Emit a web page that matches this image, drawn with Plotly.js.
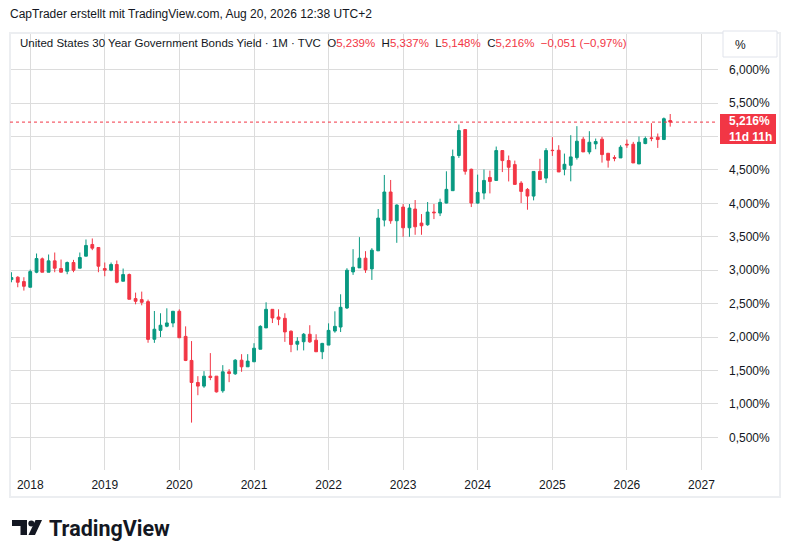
<!DOCTYPE html>
<html>
<head>
<meta charset="utf-8">
<script src="https://cdn.plot.ly/plotly-3.0.1.min.js"></script>
<style>
html,body{margin:0;padding:0;background:#ffffff;}
#chart{width:791px;height:558px;}
</style>
</head>
<body>
<div id="chart"></div>
<script>
// ---- Data (monthly OHLC, US 30Y yield, %) ----
const months = [
'2017-10-01','2017-11-01','2017-12-01',
'2018-01-01','2018-02-01','2018-03-01','2018-04-01','2018-05-01','2018-06-01','2018-07-01','2018-08-01','2018-09-01','2018-10-01','2018-11-01','2018-12-01',
'2019-01-01','2019-02-01','2019-03-01','2019-04-01','2019-05-01','2019-06-01','2019-07-01','2019-08-01','2019-09-01','2019-10-01','2019-11-01','2019-12-01',
'2020-01-01','2020-02-01','2020-03-01','2020-04-01','2020-05-01','2020-06-01','2020-07-01','2020-08-01','2020-09-01','2020-10-01','2020-11-01','2020-12-01',
'2021-01-01','2021-02-01','2021-03-01','2021-04-01','2021-05-01','2021-06-01','2021-07-01','2021-08-01','2021-09-01','2021-10-01','2021-11-01','2021-12-01',
'2022-01-01','2022-02-01','2022-03-01','2022-04-01','2022-05-01','2022-06-01','2022-07-01','2022-08-01','2022-09-01','2022-10-01','2022-11-01','2022-12-01',
'2023-01-01','2023-02-01','2023-03-01','2023-04-01','2023-05-01','2023-06-01','2023-07-01','2023-08-01','2023-09-01','2023-10-01','2023-11-01','2023-12-01',
'2024-01-01','2024-02-01','2024-03-01','2024-04-01','2024-05-01','2024-06-01','2024-07-01','2024-08-01','2024-09-01','2024-10-01','2024-11-01','2024-12-01',
'2025-01-01','2025-02-01','2025-03-01','2025-04-01','2025-05-01','2025-06-01','2025-07-01','2025-08-01','2025-09-01','2025-10-01','2025-11-01','2025-12-01',
'2026-01-01','2026-02-01','2026-03-01','2026-04-01','2026-05-01','2026-06-01','2026-07-01','2026-08-01'
];

const openVals = [
2.86,2.895,2.83,
2.745,2.97,3.17,2.97,3.14,3.025,2.985,3.115,3.03,3.21,3.385,3.34,
3.025,3.00,3.085,2.835,2.935,2.575,2.56,2.53,1.967,2.10,2.162,2.21,
2.386,2.01,1.65,1.32,1.266,1.415,1.415,1.196,1.48,1.45,1.654,1.555,
1.63,1.818,2.137,2.415,2.30,2.28,2.087,1.893,1.93,2.042,1.953,1.78,
1.88,2.09,2.15,2.435,2.975,3.035,3.18,3.02,3.29,3.75,4.17,3.74,
3.945,3.635,3.915,3.705,3.68,3.87,3.855,4.005,4.19,4.716,5.104,4.51,
4.005,4.154,4.388,4.343,4.79,4.64,4.58,4.303,4.209,4.109,4.478,4.378,
4.795,4.795,4.51,4.57,4.685,4.96,4.77,4.89,4.96,4.75,4.685,4.68,
4.885,4.885,4.59,4.895,4.98,4.99,4.955,5.239
];

const highVals = [
2.97,2.91,2.895,
3.01,3.25,3.19,3.235,3.265,3.16,3.13,3.155,3.265,3.46,3.475,3.34,
3.115,3.115,3.145,3.025,2.95,2.665,2.68,2.56,2.39,2.356,2.43,2.39,
2.415,2.16,1.94,1.415,1.49,1.76,1.415,1.58,1.52,1.67,1.744,1.744,
1.908,2.177,2.52,2.415,2.415,2.356,2.10,1.998,2.06,2.177,2.042,1.913,
2.205,2.385,2.64,3.03,3.315,3.495,3.285,3.33,3.915,4.425,4.35,3.985,
3.99,3.99,4.05,3.84,4.02,3.99,4.07,4.48,4.805,5.18,5.104,4.52,
4.43,4.507,4.49,4.85,4.79,4.716,4.64,4.333,4.229,4.478,4.667,4.826,
4.99,4.87,4.745,5.02,5.155,4.995,5.08,4.97,4.995,4.75,4.72,4.87,
4.955,4.92,5.00,5.00,5.20,5.045,5.285,5.337
];

const lowVals = [
2.82,2.745,2.695,
2.745,2.955,2.97,2.97,2.97,2.97,2.94,2.97,3.03,3.21,3.30,2.97,
2.91,2.985,2.805,2.835,2.565,2.49,2.475,1.915,1.913,2.00,2.147,2.147,
1.99,1.64,0.72,1.13,1.24,1.355,1.17,1.167,1.325,1.435,1.48,1.555,
1.63,1.818,2.137,2.21,2.177,1.928,1.774,1.80,1.80,1.913,1.78,1.67,
1.88,2.065,2.075,2.42,2.93,3.035,2.96,2.855,3.29,3.655,3.695,3.41,
3.50,3.50,3.53,3.53,3.665,3.765,3.81,4.00,4.19,4.68,4.43,3.945,
3.995,4.06,4.149,4.343,4.468,4.328,4.284,4.005,3.905,4.045,4.358,4.303,
4.71,4.47,4.42,4.33,4.655,4.77,4.735,4.81,4.61,4.535,4.63,4.68,
4.83,4.605,4.59,4.885,4.93,4.83,4.955,5.148
];

const closeVals = [
2.89,2.82,2.76,
2.98,3.175,2.97,3.14,3.03,2.97,3.115,3.00,3.19,3.37,3.33,3.06,
3.00,3.085,2.82,2.935,2.565,2.535,2.52,1.965,2.117,2.177,2.211,2.386,
1.99,1.65,1.32,1.266,1.415,1.395,1.18,1.48,1.455,1.654,1.555,1.64,
1.833,2.16,2.415,2.286,2.266,2.077,1.888,1.937,2.042,1.928,1.78,1.905,
2.10,2.16,2.445,3.00,3.045,3.18,3.005,3.30,3.78,4.17,3.74,3.975,
3.635,3.93,3.65,3.665,3.87,3.86,4.015,4.21,4.70,5.09,4.48,4.005,
4.164,4.343,4.328,4.79,4.64,4.54,4.284,4.179,4.109,4.478,4.358,4.79,
4.79,4.47,4.585,4.695,4.93,4.77,4.915,4.925,4.73,4.645,4.675,4.84,
4.875,4.605,4.915,4.97,4.97,4.955,5.267,5.216
];

const yTicks = [0.5,1.0,1.5,2.0,2.5,3.0,3.5,4.0,4.5,5.0,5.5,6.0];
const yTickLabels = ['0,500%','1,000%','1,500%','2,000%','2,500%','3,000%','3,500%','4,000%','4,500%','5,000%','5,500%','6,000%'];
const yearTicks = ['2018-01-01','2019-01-01','2020-01-01','2021-01-01','2022-01-01','2023-01-01','2024-01-01','2025-01-01','2026-01-01','2027-01-01'];
const yearLabels = ['2018','2019','2020','2021','2022','2023','2024','2025','2026','2027'];

const titleText = 'United States 30 Year Government Bonds Yield · 1M · TVC';
const headerText = 'CapTrader erstellt mit TradingView.com, Aug 20, 2026 12:38 UTC+2';
const countdownText = '11d 11h';

// ---- Styling ----
const UP = '#089981', DOWN = '#f23645', TXT = '#131722', GRID = '#dcdcdc';
const W = 791, H = 558;
const M = {l:10, r:73, t:33, b:88};
const PW = W - M.l - M.r, PH = H - M.t - M.b;
const px = x => (x - M.l) / PW;
const py = y => (H - M.b - y) / PH;

const fmt = v => v.toFixed(3).replace('.', ',');
const n = closeVals.length;
const lastO = openVals[n-1], lastH = highVals[n-1], lastL = lowVals[n-1], lastC = closeVals[n-1];
const chg = lastC - closeVals[n-2];
const chgPct = chg / closeVals[n-2] * 100;
const minus = s => s.replace('-', '−');
const red = s => '<span style="color:' + DOWN + '">' + s + '</span>';
const gap = ' &nbsp;';
const legendText = titleText + ' &nbsp;O' + red(fmt(lastO) + '%') + gap + 'H' + red(fmt(lastH) + '%') +
  gap + 'L' + red(fmt(lastL) + '%') + gap + 'C' + red(fmt(lastC) + '%') + gap +
  red(minus(fmt(chg)) + ' (' + minus(chgPct.toFixed(2).replace('.', ',')) + '%)');

// the last-price label on the scale covers the tick label right under it
const shownTickLabels = yTicks.map((v, i) => Math.abs(v - lastC) < 0.25 ? '' : yTickLabels[i]);

const trace = {
  type: 'candlestick',
  x: months, open: openVals, high: highVals, low: lowVals, close: closeVals,
  increasing: {line: {color: UP, width: 1}, fillcolor: UP},
  decreasing: {line: {color: DOWN, width: 1}, fillcolor: DOWN},
  whiskerwidth: 0,
  hoverinfo: 'skip',
  showlegend: false
};

const font = {family: '"Liberation Sans", Arial, sans-serif', size: 12, color: TXT};

// TradingView logo icon path (pixel coords -> paper)
function pathPx(pts) {
  return 'M' + pts.map(p => px(p[0]).toFixed(5) + ',' + py(p[1]).toFixed(5)).join(' L') + ' Z';
}
const logoT = pathPx([[12,520],[27,520],[27,535],[20.5,535],[20.5,526],[12,526]]);
const logoSlash = pathPx([[35.5,520],[42,520],[35,535],[28.5,535]]);

const layout = {
  width: W, height: H,
  margin: M,
  paper_bgcolor: '#ffffff', plot_bgcolor: '#ffffff',
  font: font,
  separators: ',.',
  dragmode: false,
  hovermode: false,
  xaxis: {
    type: 'date',
    range: ['2017-09-24', '2027-03-23'],
    tickvals: yearTicks, ticktext: yearLabels,
    showgrid: true, gridcolor: GRID, gridwidth: 1,
    zeroline: false, showline: false, ticks: '',
    ticklabelstandoff: 6,
    tickfont: {family: font.family, size: 12, color: TXT},
    rangeslider: {visible: false},
    fixedrange: true
  },
  yaxis: {
    side: 'right',
    range: [0.011, 6.549],
    tickvals: yTicks, ticktext: shownTickLabels,
    showgrid: true, gridcolor: GRID, gridwidth: 1,
    zeroline: false, showline: false, ticks: '',
    ticklabelstandoff: 10,
    tickfont: {family: font.family, size: 12, color: TXT},
    fixedrange: true
  },
  shapes: [
    // outer chart frame
    {type: 'rect', xref: 'paper', yref: 'paper', x0: px(10), x1: px(780), y0: py(497), y1: py(33),
     line: {color: '#eceef1', width: 2}, fillcolor: 'rgba(0,0,0,0)', layer: 'above'},
    // last price dotted line
    {type: 'line', xref: 'paper', yref: 'y', x0: 0, x1: 1, y0: lastC, y1: lastC,
     line: {color: DOWN, width: 1, dash: 'dot'}, layer: 'above'},
    // price label box
    {type: 'rect', xref: 'paper', xsizemode: 'pixel', xanchor: 1, x0: 2, x1: 58,
     yref: 'y', ysizemode: 'pixel', yanchor: lastC, y0: -22, y1: 8,
     line: {width: 0}, fillcolor: DOWN, layer: 'above'},
    // % unit box
    {type: 'rect', xref: 'paper', yref: 'paper', x0: px(723), x1: px(777), y0: py(57), y1: py(31),
     line: {color: '#e0e3eb', width: 1}, fillcolor: '#ffffff', layer: 'above'},
    // TradingView logo
    {type: 'path', xref: 'paper', yref: 'paper', path: logoT, fillcolor: TXT, line: {width: 0}},
    {type: 'path', xref: 'paper', yref: 'paper', path: logoSlash, fillcolor: TXT, line: {width: 0}},
    {type: 'circle', xref: 'paper', yref: 'paper', x0: px(28.3), x1: px(34.3), y0: py(526.5), y1: py(520.5),
     fillcolor: TXT, line: {width: 0}}
  ],
  annotations: [
    {xref: 'paper', yref: 'paper', x: px(8), y: py(14), xanchor: 'left', yanchor: 'middle',
     text: headerText, showarrow: false, font: {family: font.family, size: 12, color: TXT}},
    {xref: 'paper', yref: 'paper', x: px(18), y: py(43), xanchor: 'left', yanchor: 'middle',
     text: legendText, showarrow: false, font: {family: font.family, size: 11.5, color: TXT}},
    {xref: 'paper', yref: 'paper', x: px(733), y: py(45), xanchor: 'left', yanchor: 'middle',
     text: '%', showarrow: false, font: {family: font.family, size: 12, color: TXT}},
    {xref: 'paper', yref: 'y', x: 1, y: lastC, xanchor: 'left', yanchor: 'middle', xshift: 9, yshift: -7,
     align: 'left',
     text: '<b>' + fmt(lastC) + '%<br>' + countdownText + '</b>', showarrow: false,
     font: {family: font.family, size: 12, color: '#ffffff'}},
    {xref: 'paper', yref: 'paper', x: px(47), y: py(528), xanchor: 'left', yanchor: 'middle',
     text: '<b>TradingView</b>', showarrow: false, font: {family: 'Roboto, "Liberation Sans", sans-serif', size: 21.5, color: TXT}}
  ]
};

Plotly.newPlot('chart', [trace], layout, {displayModeBar: false, staticPlot: true});
</script>
</body>
</html>
